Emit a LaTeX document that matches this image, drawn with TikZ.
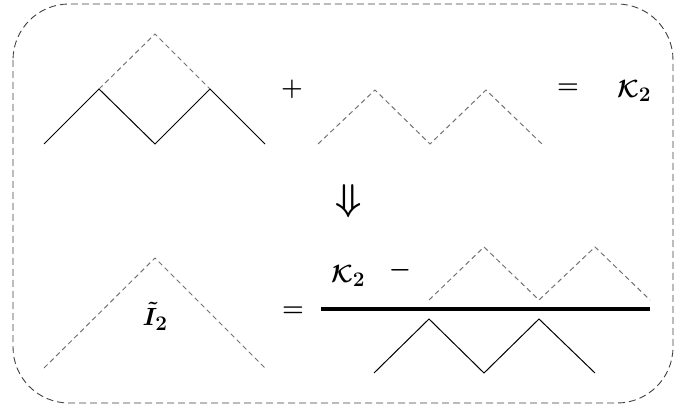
\documentclass[tikz,border=0pt]{standalone}
\usepackage{amsmath,amssymb,bm}
\usepackage{graphicx}
\usepackage{tikz}
\usetikzlibrary{positioning}

\tikzset{
  frame/.style={black!75, line width=0.9pt, dash pattern=on 7pt off 4pt, rounded corners=56pt},
  bond/.style={black, line width=1pt, line join=miter},
  ghost/.style={black!55, line width=1pt, dash pattern=on 5pt off 3.5pt},
  lbl/.style={font=\fontsize{31}{36}\selectfont, inner sep=0pt}
}

\begin{document}
\begin{tikzpicture}[x=1pt,y=-1pt]
\useasboundingbox (0,0) rectangle (675,414);

% frame
\draw[frame] (13,4) rectangle (673,403);

% first row: split zigzag + full dashed zigzag = K_2
\draw[bond] (44,144) -- (99,89) -- (155,144) -- (210,89) -- (265,144);
\draw[ghost] (99,89) -- (155,34) -- (210,89);
\node[lbl] (plus) at (292,89) {$\bm{+}$};
\draw[ghost] (318,144) -- (375,90) -- (430,144) -- (486,90) -- (542,144);
\node[lbl] (eqtop) at (568,89) {$\bm{=}$};
\node[lbl] (ktop) at (634,91) {$\bm{\mathcal{K}}_{\bm{2}}$};

% implication
\node[lbl] (imp) at (349,201) {\scalebox{1.5}[1.5]{$\bm{\Downarrow}$}};

% second row: I_2 = (K_2 - dashed) / solid
\draw[ghost] (44,368) -- (155,258) -- (265,368);
\node[lbl] (itil) at (155,316) {$\bm{\tilde{I}}_{\bm{2}}$};
\node[lbl] (eqbot) at (293,312) {$\bm{=}$};
\draw[black, line width=4pt] (321,309) coordinate (bar) -- (650,309);
\node[lbl] (knum) at (348,276) {$\bm{\mathcal{K}}_{\bm{2}}$};
\node[lbl] (minus) at (400,270) {$\bm{-}$};
\draw[ghost] (429,300) -- (484,247) -- (539,300) -- (595,247) -- (650,300);
\draw[bond] (374,373) -- (429,319) -- (484,373) -- (539,319) -- (595,373);
\end{tikzpicture}
\end{document}
